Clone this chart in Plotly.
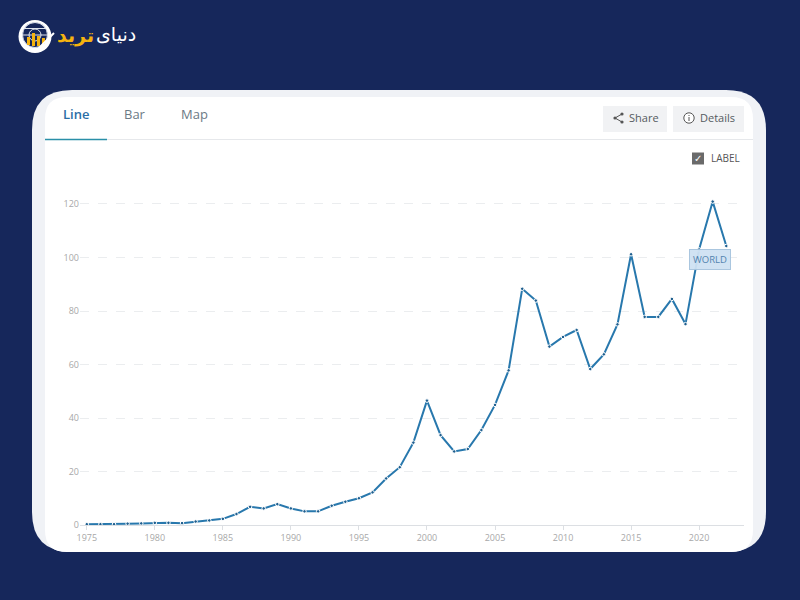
import plotly.graph_objects as go

years = list(range(1975, 2023))
values = [0.3, 0.3, 0.3, 0.5, 0.6, 0.8, 0.8, 0.7, 1.3, 1.7, 2.3, 4.1, 6.8, 6.2, 7.8, 6.2,
          5.1, 5.1, 7.2, 8.7, 10.0, 12.2, 17.4, 21.6, 30.8, 46.5, 33.6, 27.5, 28.4, 35.5,
          44.9, 57.8, 88.3, 83.9, 66.7, 70.3, 72.9, 58.3, 63.8, 75.0, 101.2, 77.8, 77.8,
          84.5, 75.1, 103.0, 120.9, 104.3]
x_ticks = list(range(1975, 2021, 5))
y_ticks = [0, 20, 40, 60, 80, 100, 120]
tabs = ["Line", "Bar", "Map"]

W, H = 800, 600
NAVY = "#16275b"
PANEL = "#f0f2f6"
BLUE = "#2878ad"
GOLD = "#f5b30f"
FONT = "Open Sans"

def px(x): return x / W
def py(y): return 1 - y / H

def rr(x0, y0, x1, y1, r):
    k = r
    pts = [(x0 + k, y0), (x1 - k, y0), (x1, y0 + k), (x1, y1 - k), (x1 - k, y1), (x0 + k, y1), (x0, y1 - k), (x0, y0 + k)]
    p = [(px(a), py(b)) for a, b in pts]
    s = f"M{p[0][0]},{p[0][1]} L{p[1][0]},{p[1][1]} Q{px(x1)},{py(y0)} {p[2][0]},{p[2][1]} "
    s += f"L{p[3][0]},{p[3][1]} Q{px(x1)},{py(y1)} {p[4][0]},{p[4][1]} "
    s += f"L{p[5][0]},{p[5][1]} Q{px(x0)},{py(y1)} {p[6][0]},{p[6][1]} "
    s += f"L{p[7][0]},{p[7][1]} Q{px(x0)},{py(y0)} {p[0][0]},{p[0][1]} Z"
    return s

shapes = []
def rect(x0, y0, x1, y1, fill, line=None):
    shapes.append(dict(type="rect", xref="paper", yref="paper", x0=px(x0), x1=px(x1), y0=py(y1), y1=py(y0),
                       fillcolor=fill, line=dict(width=0 if line is None else 1, color=line or fill), layer="below"))
def circle(cx, cy, r, fill="rgba(0,0,0,0)", line=None, w=1):
    shapes.append(dict(type="circle", xref="paper", yref="paper", x0=px(cx - r), x1=px(cx + r), y0=py(cy + r), y1=py(cy - r),
                       fillcolor=fill, line=dict(width=w if line else 0, color=line or fill), layer="below"))
def seg(x0, y0, x1, y1, color, w=1):
    shapes.append(dict(type="line", xref="paper", yref="paper", x0=px(x0), x1=px(x1), y0=py(y0), y1=py(y1),
                       line=dict(width=w, color=color), layer="below"))

# card
shapes.append(dict(type="path", xref="paper", yref="paper", path=rr(32, 90, 766, 552, 40), fillcolor=PANEL, line=dict(width=0), layer="below"))
shapes.append(dict(type="path", xref="paper", yref="paper", path=rr(45, 97, 753, 552, 22), fillcolor="#ffffff", line=dict(width=0), layer="below"))
seg(45, 139.5, 753, 139.5, "#e6e8eb", 1)
seg(45, 139.5, 107, 139.5, "#2a8fa8", 1.5)
# buttons
rect(603, 106, 667, 132, "#f1f2f4")
rect(673, 106, 744, 132, "#f1f2f4")
# share icon
seg(615, 118, 622, 114, "#555555", 1)
seg(615, 118, 622, 122, "#555555", 1)
circle(615, 118, 1.6, "#555555")
circle(622, 114, 1.6, "#555555")
circle(622, 122, 1.6, "#555555")
# details icon
circle(689, 118, 5.2, "#ffffff", "#555555", 1)
seg(689, 117, 689, 121, "#555555", 1)
seg(689, 115, 689, 116, "#555555", 1)
# checkbox
rect(692, 152.5, 704, 164.5, "#6a6a6a")
# logo
circle(35, 36.5, 16.5, "#ffffff")
circle(35, 35, 12.5, NAVY, "#dfe4ee", 1)
seg(22.5, 35, 47.5, 35, "#dfe4ee", 1)
seg(24, 28.5, 46, 28.5, "#dfe4ee", 1)
circle(35, 35, 6, "rgba(0,0,0,0)", "#dfe4ee", 1)
rect(27, 37, 30, 45, GOLD)
rect(32, 33, 35, 46, GOLD)
rect(37, 36, 40, 46, GOLD)
rect(42, 38, 45, 44, GOLD)
seg(39, 48, 54, 33, "#ffffff", 2)

def ann(x, y, text, size=11, color="#555555", anchor="center", family=FONT, weight=None, **kw):
    font = dict(size=size, color=color, family=family)
    if weight:
        font["weight"] = weight
    return dict(x=px(x), y=py(y), xref="paper", yref="paper", text=text, showarrow=False, xanchor=anchor, yanchor="middle",
                font=font, **kw)

annotations = [
    ann(76, 114.5, tabs[0], 13, "#2b6ea6", weight=600),
    ann(135, 114.5, tabs[1], 13, "#6c7a85"),
    ann(194, 114.5, tabs[2], 13, "#6c7a85"),
    ann(644, 117, "Share", 11, "#555b60"),
    ann(717.5, 117, "Details", 11, "#555b60"),
    ann(698, 158.5, "✓", 10, "#ffffff", family="DejaVu Sans"),
    ann(709, 158, "LABEL", 10, "#555555", "left"),
    ann(116, 34, "دنیای", 19, "#ffffff", family="DejaVu Sans"),
    ann(75, 35, "<b>ترید</b>", 19, GOLD, family="DejaVu Sans"),
    dict(x=2020.8, y=99.2, xref="x", yref="y", text="WORLD", showarrow=False, xanchor="center", yanchor="middle",
         font=dict(size=9.5, color="#4a7dab", family=FONT), bgcolor="#cfe2f3", bordercolor="#a6c4de", borderwidth=1,
         borderpad=3, opacity=0.95),
]

fig = go.Figure(go.Scatter(
    x=years, y=values, mode="lines+markers", hoverinfo="skip",
    line=dict(color=BLUE, width=2),
    marker=dict(size=3.5, color="#1f5f8f", line=dict(color="#ffffff", width=1)),
))

fig.update_layout(
    width=W, height=H, autosize=False, margin=dict(l=0, r=0, t=0, b=0, pad=0, autoexpand=False),
    paper_bgcolor=NAVY, plot_bgcolor="rgba(0,0,0,0)", showlegend=False,
    shapes=shapes, annotations=annotations, font=dict(family=FONT),
    xaxis=dict(domain=[px(80), px(744)], range=[1974.5, 2023.3], tickmode="array", tickvals=x_ticks,
               ticks="outside", ticklen=4, tickcolor="#dcdfe3", tickwidth=1, showgrid=False, zeroline=False,
               showline=True, linecolor="#dcdfe3", linewidth=1, tickfont=dict(size=9, color="#a8a8a8", family=FONT)),
    yaxis=dict(domain=[py(525), py(185)], range=[0, 127.1], tickmode="array", tickvals=y_ticks,
               showgrid=True, gridcolor="#ebedef", griddash="dash", gridwidth=1, zeroline=False, showline=False,
               ticks="", tickfont=dict(size=9, color="#a8a8a8", family=FONT)),
)
fig.write_html("out.html", config=dict(displayModeBar=False),
               post_script="document.body.style.margin='0';document.body.style.overflow='hidden';document.body.style.background='#16275b';")
